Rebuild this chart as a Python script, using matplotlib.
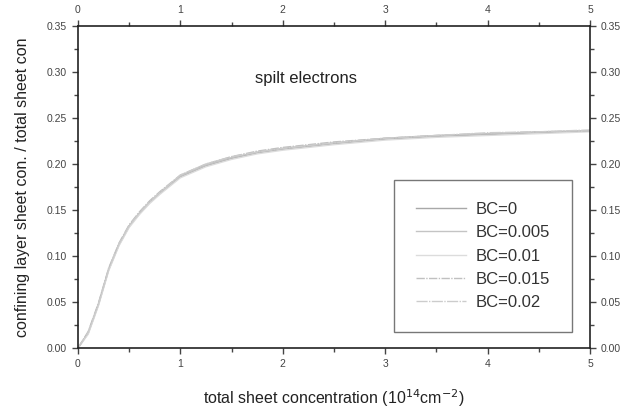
import matplotlib
matplotlib.use("Agg")
import matplotlib.pyplot as plt
from matplotlib.ticker import MultipleLocator, FormatStrFormatter

plt.rcParams['font.family'] = ['Liberation Sans', 'DejaVu Sans']

# total sheet concentration (10^14 cm^-2)
conc = [0, 0.1, 0.2, 0.3, 0.4, 0.5, 0.6, 0.7, 0.8, 1.0, 1.25, 1.5, 1.75,
        2.0, 2.5, 3.0, 3.5, 4.0, 4.5, 5.0]

# confining layer fraction for each BC value
bc0 = [0, 0.016, 0.047, 0.085, 0.112, 0.132, 0.146, 0.158, 0.168, 0.186,
       0.198, 0.206, 0.212, 0.216, 0.222, 0.227, 0.230, 0.232, 0.234, 0.236]
bc005 = [0, 0.017, 0.048, 0.086, 0.113, 0.133, 0.147, 0.159, 0.169, 0.187,
         0.199, 0.207, 0.213, 0.217, 0.223, 0.228, 0.231, 0.233, 0.235, 0.236]
bc01 = [0, 0.015, 0.046, 0.084, 0.111, 0.131, 0.145, 0.157, 0.167, 0.185,
        0.197, 0.205, 0.211, 0.215, 0.221, 0.226, 0.229, 0.231, 0.233, 0.235]
bc015 = [0, 0.018, 0.049, 0.087, 0.114, 0.134, 0.148, 0.160, 0.170, 0.188,
         0.200, 0.208, 0.214, 0.218, 0.224, 0.228, 0.231, 0.233, 0.235, 0.236]
bc02 = [0, 0.017, 0.048, 0.086, 0.113, 0.133, 0.147, 0.159, 0.169, 0.188,
        0.200, 0.208, 0.213, 0.217, 0.223, 0.228, 0.231, 0.234, 0.235, 0.237]

series = [("BC=0", bc0, "#a8a8a8", "-"),
          ("BC=0.005", bc005, "#c4c4c4", "-"),
          ("BC=0.01", bc01, "#dcdcdc", "-"),
          ("BC=0.015", bc015, "#c0c0c0", (0, (6, 1, 1, 1))),
          ("BC=0.02", bc02, "#cccccc", (0, (8, 1, 1, 1)))]

fig = plt.figure(figsize=(6.32, 4.12), dpi=100)
ax = fig.add_axes([0.1234, 0.1553, 0.8101, 0.7816])

for label, ys, col, ls in series:
    ax.plot(conc, ys, color=col, lw=1.0, linestyle=ls, label=label)

ax.set_xlim(0, 5)
ax.set_ylim(0, 0.35)
ax.xaxis.set_major_locator(MultipleLocator(1))
ax.xaxis.set_minor_locator(MultipleLocator(0.5))
ax.yaxis.set_major_locator(MultipleLocator(0.05))
ax.yaxis.set_minor_locator(MultipleLocator(0.025))
ax.yaxis.set_major_formatter(FormatStrFormatter('%.2f'))

ax.tick_params(which='both', direction='out', top=True, right=True,
               labeltop=True, labelright=True, labelsize=7.5,
               colors='#444444', width=1)
ax.tick_params(which='major', length=4, pad=4)
ax.tick_params(which='minor', length=3)
for s in ax.spines.values():
    s.set_linewidth(1.2)
    s.set_color('#222222')

ax.text(2.23, 0.293, "spilt electrons", ha='center', va='center',
        fontsize=12, color='#222222')

ax.set_xlabel("total sheet concentration (10$^{14}$cm$^{-2}$)", fontsize=11.5,
              color='#222222', labelpad=13)
ax.set_ylabel("confining layer sheet con. / total sheet con", fontsize=11.5,
              color='#222222', labelpad=12)

leg = ax.legend(loc='lower right', bbox_to_anchor=(0.965, 0.05),
                fontsize=12, frameon=True, fancybox=False,
                handlelength=3.0, labelspacing=0.5, borderpad=1.3,
                handletextpad=0.6, borderaxespad=0)
leg.get_frame().set_edgecolor('#555555')
leg.get_frame().set_linewidth(1.0)
for t in leg.get_texts():
    t.set_color('#333333')

fig.savefig("out.png", dpi=100)
